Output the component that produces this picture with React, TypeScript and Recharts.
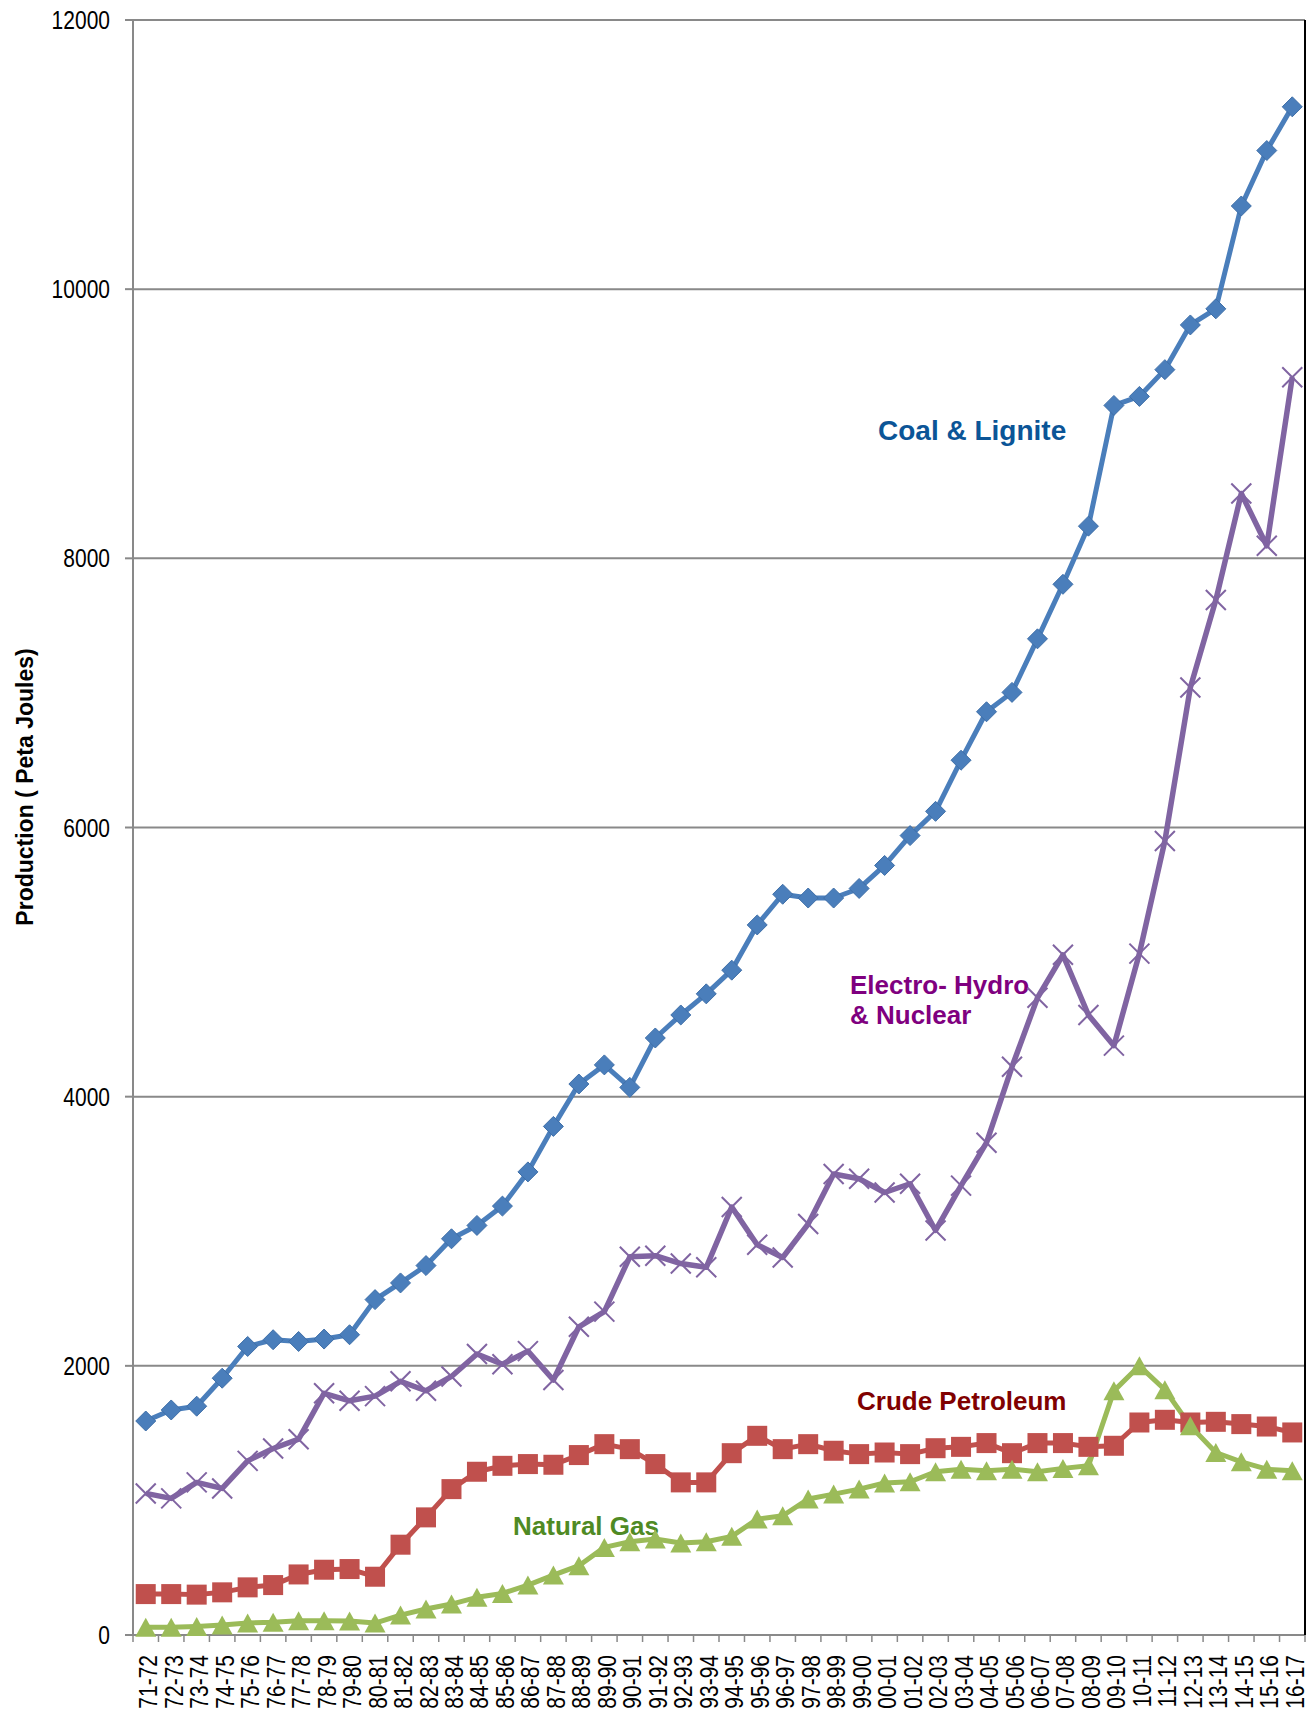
import { LineChart, Line, XAxis, YAxis, CartesianGrid } from 'recharts';

const years = [
  '71-72', '72-73', '73-74', '74-75', '75-76', '76-77', '77-78', '78-79', '79-80', '80-81',
  '81-82', '82-83', '83-84', '84-85', '85-86', '86-87', '87-88', '88-89', '89-90', '90-91',
  '91-92', '92-93', '93-94', '94-95', '95-96', '96-97', '97-98', '98-99', '99-00', '00-01',
  '01-02', '02-03', '03-04', '04-05', '05-06', '06-07', '07-08', '08-09', '09-10', '10-11',
  '11-12', '12-13', '13-14', '14-15', '15-16', '16-17',
];

const coal = [
  1590, 1672, 1700, 1908, 2144, 2194, 2181, 2199, 2231, 2492,
  2616, 2745, 2944, 3043, 3187, 3441, 3779, 4094, 4236, 4069,
  4436, 4607, 4764, 4940, 5276, 5504, 5476, 5476, 5547, 5718,
  5940, 6120, 6500, 6860, 7004, 7402, 7807, 8239, 9136, 9203,
  9402, 9734, 9854, 10618, 11030, 11355,
];

const electro = [
  1052, 1015, 1134, 1089, 1294, 1386, 1455, 1796, 1740, 1775,
  1885, 1815, 1921, 2088, 2012, 2109, 1895, 2290, 2403, 2810,
  2818, 2760, 2732, 3180, 2900, 2805, 3054, 3425, 3390, 3288,
  3353, 3006, 3339, 3658, 4222, 4735, 5054, 4607, 4379, 5063,
  5900, 7040, 7690, 8482, 8093, 9346,
];

const crude = [
  304, 304, 300, 317, 354, 371, 450, 485, 490, 433,
  671, 874, 1084, 1213, 1257, 1270, 1265, 1337, 1418, 1381,
  1270, 1134, 1134, 1351, 1480, 1381, 1418, 1369, 1344, 1356,
  1344, 1388, 1398, 1426, 1351, 1426, 1426, 1398, 1406, 1579,
  1599, 1579, 1584, 1567, 1549, 1505,
];

const gas = [
  57, 57, 64, 74, 89, 94, 106, 106, 104, 89,
  148, 193, 230, 280, 309, 371, 445, 515, 651, 693,
  713, 683, 693, 733, 861, 886, 1010, 1047, 1084, 1129,
  1139, 1213, 1232, 1220, 1232, 1213, 1238, 1257, 1814, 2000,
  1822, 1554, 1356, 1287, 1232, 1220,
];

const yTicks = [0, 2000, 4000, 6000, 8000, 10000, 12000];

const rows = years.map((year, i) => ({
  year,
  coal: coal[i],
  electro: electro[i],
  crude: crude[i],
  gas: gas[i],
}));

const W = 1312;
const H = 1712;
const LEFT = 133;
const RIGHT_W = 7;
const TOP = 20;
const X_AXIS_H = 77;
const AXIS_Y = H - X_AXIS_H;
const BAND = (W - LEFT - RIGHT_W) / years.length;
const FONT = "'Liberation Sans', Arial, sans-serif";
const GRID = '#898989';

function XTick(props: any) {
  const { x, payload, index } = props;
  return (
    <g>
      <line x1={x - BAND / 2} y1={AXIS_Y} x2={x - BAND / 2} y2={AXIS_Y + 7} stroke={GRID} strokeWidth={1.5} />
      {index === years.length - 1 && (
        <line x1={x + BAND / 2} y1={AXIS_Y} x2={x + BAND / 2} y2={AXIS_Y + 7} stroke={GRID} strokeWidth={1.5} />
      )}
      <text
        transform={`translate(${x + 11.5},${AXIS_Y + 20}) rotate(-90) scale(0.84,1)`}
        textAnchor="end"
        fontSize={25}
        fontFamily={FONT}
        fill="#000"
      >
        {payload.value}
      </text>
    </g>
  );
}

function YTick(props: any) {
  const { y, payload } = props;
  return (
    <text
      transform={`translate(110,${y + 9}) scale(0.84,1)`}
      textAnchor="end"
      fontSize={25}
      fontFamily={FONT}
      fill="#000"
    >
      {payload.value}
    </text>
  );
}

function YTitle() {
  return (
    <text
      transform="translate(33,787) rotate(-90)"
      textAnchor="middle"
      fontSize={23}
      fontWeight="bold"
      fontFamily={FONT}
      fill="#000"
    >
      Production ( Peta Joules)
    </text>
  );
}

function diamond(props: any) {
  const { cx, cy, index } = props;
  const r = 10;
  return (
    <path
      key={`dm-${index}`}
      d={`M${cx},${cy - r}L${cx + r},${cy}L${cx},${cy + r}L${cx - r},${cy}Z`}
      fill="#4A7EBB"
      stroke="#3F6FA8"
      strokeWidth={1}
    />
  );
}

function cross(props: any) {
  const { cx, cy, index } = props;
  const r = 10;
  return (
    <path
      key={`x-${index}`}
      d={`M${cx - r},${cy - r}L${cx + r},${cy + r}M${cx - r},${cy + r}L${cx + r},${cy - r}`}
      stroke="#8064A2"
      strokeWidth={2}
      fill="none"
    />
  );
}

function square(props: any) {
  const { cx, cy, index } = props;
  const r = 10;
  return <rect key={`sq-${index}`} x={cx - r} y={cy - r} width={2 * r} height={2 * r} fill="#C0504D" />;
}

function triangle(props: any) {
  const { cx, cy, index } = props;
  const w = 10.5;
  const h = 9.5;
  return (
    <path
      key={`tr-${index}`}
      d={`M${cx},${cy - h}L${cx + w},${cy + h}L${cx - w},${cy + h}Z`}
      fill="#9BBB59"
    />
  );
}

const notes = [
  { lines: ['Coal & Lignite'], x: 878, y: 440, size: 28, color: '#0B5597' },
  { lines: ['Electro- Hydro', '& Nuclear'], x: 850, y: 994, size: 26, color: '#7F007F' },
  { lines: ['Crude Petroleum'], x: 857, y: 1410, size: 26, color: '#800000' },
  { lines: ['Natural Gas'], x: 513, y: 1535, size: 26, color: '#4F8A24' },
];

export default function App() {
  return (
    <div style={{ position: 'absolute', left: 0, top: 0, width: W, height: H, background: '#fff' }}>
      <LineChart width={W} height={H} data={rows} margin={{ top: TOP, right: 0, bottom: 0, left: 0 }}>
        <CartesianGrid vertical={false} stroke={GRID} strokeWidth={2} />
        <XAxis
          dataKey="year"
          interval={0}
          height={X_AXIS_H}
          padding={{ left: BAND / 2, right: BAND / 2 }}
          tickLine={false}
          tick={<XTick />}
          axisLine={{ stroke: GRID, strokeWidth: 2 }}
        />
        <XAxis
          xAxisId="top"
          orientation="top"
          dataKey="year"
          height={0}
          tick={false}
          tickLine={false}
          axisLine={{ stroke: '#000', strokeWidth: 2 }}
        />
        <YAxis
          domain={[0, 12000]}
          ticks={yTicks}
          width={LEFT}
          tickSize={8}
          tickLine={{ stroke: GRID, strokeWidth: 2 }}
          axisLine={{ stroke: GRID, strokeWidth: 2 }}
          tick={<YTick />}
          label={<YTitle />}
        />
        <YAxis
          yAxisId="right"
          orientation="right"
          width={RIGHT_W}
          tick={false}
          tickLine={false}
          axisLine={{ stroke: '#000', strokeWidth: 2 }}
        />
        <Line dataKey="coal" stroke="#4A7EBB" strokeWidth={5} strokeLinejoin="round" dot={diamond} activeDot={false} isAnimationActive={false} />
        <Line dataKey="electro" stroke="#8064A2" strokeWidth={5.5} strokeLinejoin="round" dot={cross} activeDot={false} isAnimationActive={false} />
        <Line dataKey="crude" stroke="#C0504D" strokeWidth={5} strokeLinejoin="round" dot={square} activeDot={false} isAnimationActive={false} />
        <Line dataKey="gas" stroke="#9BBB59" strokeWidth={5} strokeLinejoin="round" dot={triangle} activeDot={false} isAnimationActive={false} />
        {notes.map((n) => (
          <text key={n.lines[0]} x={n.x} y={n.y} fontSize={n.size} fontWeight="bold" fontFamily={FONT} fill={n.color}>
            {n.lines.map((l, i) => (
              <tspan key={l} x={n.x} dy={i === 0 ? 0 : 30}>
                {l}
              </tspan>
            ))}
          </text>
        ))}
      </LineChart>
    </div>
  );
}
